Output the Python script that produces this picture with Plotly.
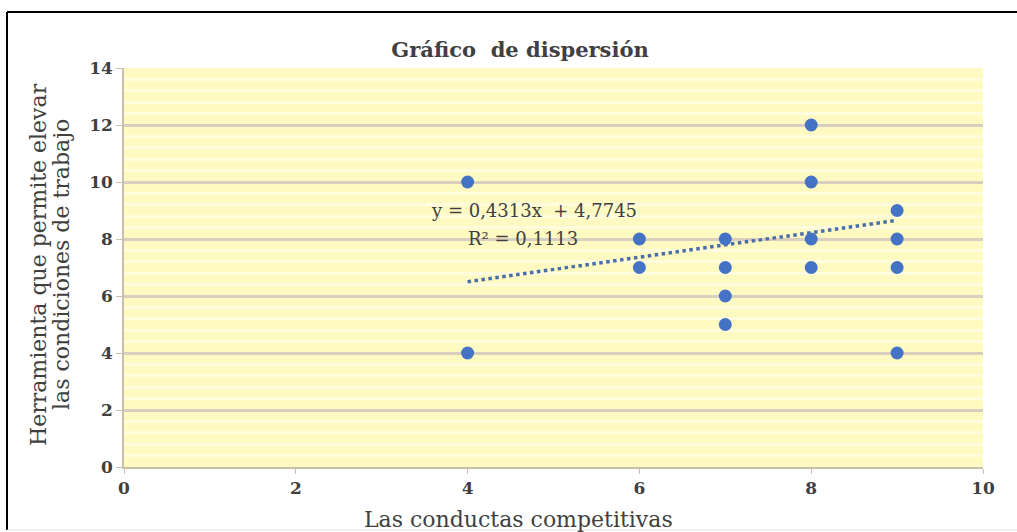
import plotly.graph_objects as go

# Data
x_vals = [4, 4, 6, 6, 7, 7, 7, 7, 8, 8, 8, 8, 9, 9, 9, 9]
y_vals = [10, 4, 8, 7, 8, 7, 6, 5, 12, 10, 8, 7, 9, 8, 7, 4]
slope = 0.4313
intercept = 4.7745
r2 = 0.1113
x_ticks = [0, 2, 4, 6, 8, 10]
y_ticks = [0, 2, 4, 6, 8, 10, 12, 14]

W, H = 1017, 532
L, R, T, B = 124, 34, 68, 65
pw, ph = W - L - R, H - T - B

def px(xp):
    return (xp - L) / pw

def py(yp):
    return (H - B - yp) / ph

FONT = "DejaVu Serif"
TXT = "#404040"

tx = [min(x_vals), max(x_vals)]
ty = [slope * v + intercept for v in tx]

fig = go.Figure()
fig.add_trace(go.Scatter(x=tx, y=ty, mode="lines",
                         line=dict(color="#4a6fa8", width=3.5, dash="dot"),
                         hoverinfo="skip", showlegend=False))
fig.add_trace(go.Scatter(x=x_vals, y=y_vals, mode="markers",
                         marker=dict(color="#4472C4", size=13,
                                     line=dict(width=0)),
                         showlegend=False))

fig.update_layout(
    width=W, height=H,
    margin=dict(l=L, r=R, t=T, b=B),
    paper_bgcolor="white",
    plot_bgcolor="#fffac2",
    font=dict(family=FONT, color=TXT),
    title=dict(text="<b>Gráfico  de dispersión</b>", x=520 / W, xanchor="center",
               y=1 - 50 / H, yanchor="middle",
               font=dict(family=FONT, size=21, color=TXT)),
    xaxis=dict(range=[0, 10], tickvals=x_ticks, showgrid=False, zeroline=False,
               showline=True, linecolor="#c8c0a8", linewidth=1.5,
               ticks="outside", ticklen=5, tickcolor="#c8c0a8",
               tickfont=dict(family=FONT, size=17, color=TXT, weight="bold")),
    yaxis=dict(range=[0, 14], tickvals=y_ticks, zeroline=False,
               showgrid=True, gridcolor="#d8cfc0", gridwidth=2.5,
               showline=True, linecolor="#c8c0a8", linewidth=1.5,
               ticks="outside", ticklen=6, tickcolor="#c8c0a8",
               tickfont=dict(family=FONT, size=17, color=TXT, weight="bold"),
               minor=dict(dtick=0.4, showgrid=True, gridcolor="#fffce0", gridwidth=3)),
)

fig.add_annotation(x=px(534), y=py(210), xref="paper", yref="paper",
                   text="y = 0,4313x  + 4,7745", showarrow=False,
                   xanchor="center", yanchor="middle",
                   font=dict(family=FONT, size=18, color=TXT))
fig.add_annotation(x=px(523), y=py(238), xref="paper", yref="paper",
                   text="R² = 0,1113", showarrow=False,
                   xanchor="center", yanchor="middle",
                   font=dict(family=FONT, size=18, color=TXT))

fig.add_annotation(x=px(38), y=py(265), xref="paper", yref="paper",
                   text="Herramienta que permite elevar",
                   textangle=-90, showarrow=False, xanchor="center", yanchor="middle",
                   font=dict(family=FONT, size=22, color=TXT))
fig.add_annotation(x=px(61), y=py(265), xref="paper", yref="paper",
                   text="las condiciones de trabajo",
                   textangle=-90, showarrow=False, xanchor="center", yanchor="middle",
                   font=dict(family=FONT, size=22, color=TXT))
fig.add_annotation(x=px(518), y=py(519), xref="paper", yref="paper",
                   text="Las conductas competitivas", showarrow=False,
                   xanchor="center", yanchor="middle",
                   font=dict(family=FONT, size=22, color=TXT))

# outer frame
fig.add_shape(type="line", xref="paper", yref="paper",
              x0=px(7), x1=px(1030), y0=py(12), y1=py(12),
              line=dict(color="black", width=2))
fig.add_shape(type="line", xref="paper", yref="paper",
              x0=px(7), x1=px(7), y0=py(12), y1=py(530),
              line=dict(color="black", width=2))
fig.add_shape(type="line", xref="paper", yref="paper",
              x0=px(7), x1=px(1030), y0=py(530), y1=py(530),
              line=dict(color="#e0e0e0", width=1))

fig.write_html("out.html", config={"displayModeBar": False})

with open("out.html", "r", encoding="utf-8") as f:
    html = f.read()
html = html.replace("<head>", "<head><style>html,body{margin:0;padding:0;overflow:hidden;}</style>", 1)
with open("out.html", "w", encoding="utf-8") as f:
    f.write(html)
